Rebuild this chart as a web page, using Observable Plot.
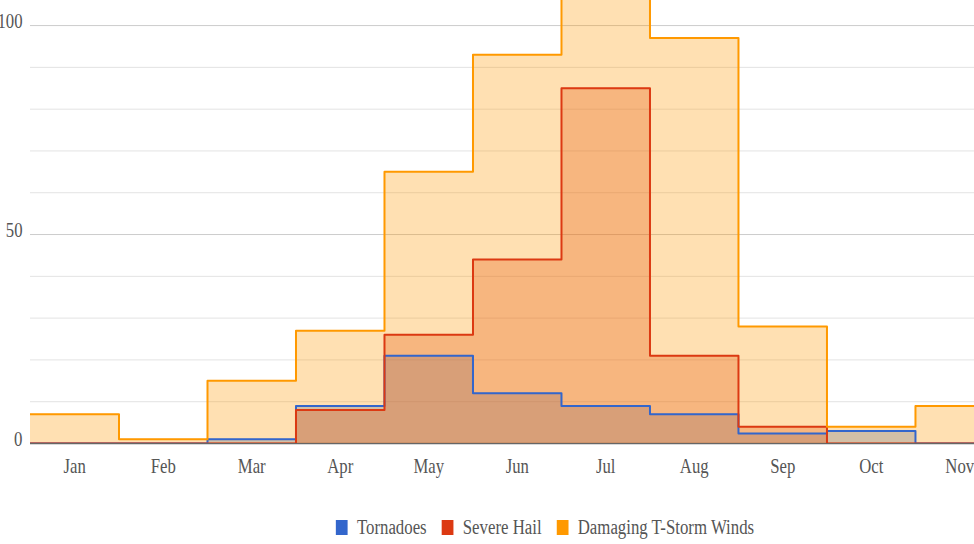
<!DOCTYPE html>
<html>
<head>
<meta charset="utf-8">
<script src="https://cdn.jsdelivr.net/npm/d3@7"></script>
<script src="https://cdn.jsdelivr.net/npm/@observablehq/plot@0.6"></script>
<style>
  body { margin: 0; background: #fff; overflow: hidden; }
  #chart { width: 974px; }
  .legend { box-sizing: border-box; width: 974px; padding-left: 116px; display: flex; justify-content: center; align-items: center; font-family: "Liberation Serif", "Times New Roman", serif; font-size: 20px; color: #555; height: 34px; transform: scaleX(0.84); transform-origin: 545px 50%; }
  .legend .item { display: flex; align-items: center; margin: 0 9px; }
  .legend .sw { width: 14px; height: 15px; margin-right: 11px; }
</style>
</head>
<body>
<div id="chart"></div>
<script>
const months = ["Jan","Feb","Mar","Apr","May","Jun","Jul","Aug","Sep","Oct","Nov"];
const seriesNames = ["Tornadoes", "Severe Hail", "Damaging T-Storm Winds"];
const seriesColors = ["#3366cc", "#dc3912", "#ff9900"];
const tornadoes = [0, 0, 1, 9, 21, 12, 9, 7, 2.4, 3, 0];
const hail = [0, 0, 0, 8, 26, 44, 85, 21, 4, 0, 0];
const winds = [7, 1, 15, 27, 65, 93, 112, 97, 28, 4, 9];
const yTicks = [0, 50, 100];
const gridValues = d3.range(0, 110, 10);

const seriesValues = [tornadoes, hail, winds];
const rows = [];
seriesValues.forEach((vals, k) => {
  vals.forEach((v, i) => rows.push({i, v, s: seriesNames[k]}));
  rows.push({i: vals.length, v: vals[vals.length - 1], s: seriesNames[k]});
});
const font = "'Liberation Serif', 'Times New Roman', serif";

const plot = Plot.plot({
  width: 974,
  height: 510,
  marginLeft: 30,
  marginRight: 0,
  marginTop: 0,
  marginBottom: 67,
  style: {fontFamily: font, fontSize: "22px", color: "#555", background: "#fff"},
  x: {type: "linear", domain: [0, 10.667], axis: null, label: null},
  y: {domain: [0, 106], axis: null, label: null},
  color: {domain: seriesNames, range: seriesColors},
  marks: [
    Plot.ruleY(gridValues.filter(v => v % 50 !== 0), {stroke: "#e3e3e3", strokeWidth: 1}),
    Plot.ruleY(yTicks.filter(v => v !== 0), {stroke: "#cccccc", strokeWidth: 1}),
    Plot.ruleY([0], {stroke: "#666", strokeWidth: 1.5}),
    Plot.area(rows, {x1: "i", y1: 0, y2: "v", z: "s", fill: "s", fillOpacity: 0.3, curve: "step-after", clip: true}),
    Plot.line(rows, {x: "i", y: "v", z: "s", stroke: "s", strokeWidth: 2, curve: "step-after", clip: true}),
    Plot.axisY(yTicks, {tickSize: 0, tickPadding: 8, dy: -5, fontSize: 22, fill: "#555", label: null, fontFamily: font}),
    Plot.axisX(months.map((m, i) => i + 0.5), {tickSize: 0, tickPadding: 14, fontSize: 22, fill: "#555", label: null, fontFamily: font, tickFormat: d => months[Math.floor(d)]})
  ]
});
document.getElementById("chart").appendChild(plot);
// condense the axis labels horizontally, as in the reference
d3.select(plot).selectAll("g[aria-label$='tick label'] text").each(function() {
  const w = this.getComputedTextLength();
  if (w > 0) {
    this.setAttribute("textLength", (w * 0.76).toFixed(1));
    this.setAttribute("lengthAdjust", "spacingAndGlyphs");
  }
});

const legend = document.createElement("div");
legend.className = "legend";
seriesNames.forEach((name, k) => {
  const item = document.createElement("div");
  item.className = "item";
  const sw = document.createElement("span");
  sw.className = "sw";
  sw.style.background = seriesColors[k];
  const t = document.createElement("span");
  t.textContent = name;
  item.appendChild(sw);
  item.appendChild(t);
  legend.appendChild(item);
});
document.getElementById("chart").appendChild(legend);
</script>
</body>
</html>
